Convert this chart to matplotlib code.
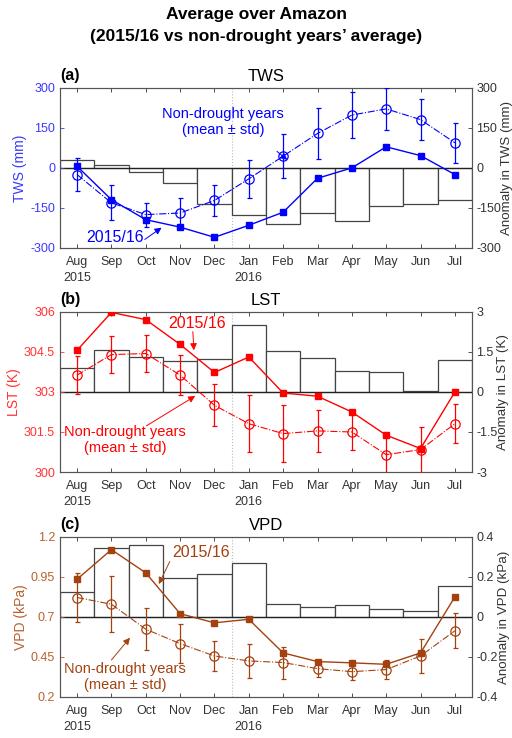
import matplotlib
matplotlib.use("Agg")
import matplotlib.pyplot as plt
import numpy as np

plt.rcParams['font.family'] = ['Liberation Sans', 'DejaVu Sans']
plt.rcParams['axes.unicode_minus'] = False

months = ['Aug', 'Sep', 'Oct', 'Nov', 'Dec', 'Jan', 'Feb', 'Mar', 'Apr', 'May', 'Jun', 'Jul']
tick_labels = ['Aug\n2015', 'Sep', 'Oct', 'Nov', 'Dec', 'Jan\n2016', 'Feb', 'Mar', 'Apr', 'May', 'Jun', 'Jul']

tws_drought = [6, -119, -194, -222, -260, -215, -166, -39, 0, 79, 46, -25]
tws_normal = [-25, -131, -175, -169, -122, -41, 44, 129, 198, 221, 181, 94]
tws_std = [62, 66, 45, 55, 57, 70, 82, 94, 86, 80, 78, 75]
tws_anom = [31, 11, -17, -56, -137, -175, -210, -169, -200, -144, -134, -119]

lst_drought = [304.56, 305.98, 305.71, 304.78, 303.73, 304.31, 302.96, 302.84, 302.25, 301.38, 300.88, 303.0]
lst_normal = [303.63, 304.40, 304.44, 303.63, 302.50, 301.81, 301.44, 301.54, 301.50, 300.65, 300.84, 301.81]
lst_std = [0.72, 0.70, 0.68, 0.76, 0.78, 1.07, 1.08, 0.80, 0.69, 0.74, 0.86, 0.72]
lst_anom = [0.91, 1.59, 1.31, 1.15, 1.25, 2.52, 1.54, 1.29, 0.78, 0.75, 0.05, 1.21]

vpd_drought = [0.935, 1.12, 0.975, 0.72, 0.663, 0.685, 0.475, 0.421, 0.413, 0.404, 0.475, 0.825]
vpd_normal = [0.821, 0.779, 0.623, 0.533, 0.456, 0.425, 0.415, 0.377, 0.358, 0.371, 0.456, 0.613]
vpd_std = [0.154, 0.176, 0.130, 0.120, 0.096, 0.107, 0.100, 0.053, 0.055, 0.060, 0.105, 0.110]
vpd_anom = [0.122, 0.342, 0.358, 0.195, 0.212, 0.270, 0.063, 0.050, 0.058, 0.037, 0.028, 0.155]

panels = [
    dict(tag='(a)', title='TWS', ylabel='TWS (mm)', rlabel='Anomaly in TWS (mm)',
         d=tws_drought, n=tws_normal, s=tws_std, a=tws_anom,
         ylim=(-300, 300), yt=[-300, -150, 0, 150, 300], ytl=['-300', '-150', '0', '150', '300'],
         rlim=(-300, 300), rt=[-300, -150, 0, 150, 300], rtl=['-300', '-150', '0', '150', '300'],
         color='#0000FF', tcolor='#3a3aff',
         txt_d=(2.1, -262), arr_d=((2.97, -268), (3.46, -224)),
         txt_n=(5.25, 172), arr_n=((6.82, 62), (7.12, 30))),
    dict(tag='(b)', title='LST', ylabel='LST (K)', rlabel='Anomaly in LST (K)',
         d=lst_drought, n=lst_normal, s=lst_std, a=lst_anom,
         ylim=(300, 306), yt=[300, 301.5, 303, 304.5, 306], ytl=['300', '301.5', '303', '304.5', '306'],
         rlim=(-3, 3), rt=[-3, -1.5, 0, 1.5, 3], rtl=['-3', '-1.5', '0', '1.5', '3'],
         color='#FF0000', tcolor='#ff3333',
         txt_d=(4.5, 305.55), arr_d=((4.37, 305.26), (4.4, 304.56)),
         txt_n=(2.4, 301.2), arr_n=((3.02, 301.73), (4.44, 302.85))),
    dict(tag='(c)', title='VPD', ylabel='VPD (kPa)', rlabel='Anomaly in VPD (kPa)',
         d=vpd_drought, n=vpd_normal, s=vpd_std, a=vpd_anom,
         ylim=(0.2, 1.2), yt=[0.2, 0.45, 0.7, 0.95, 1.2], ytl=['0.2', '0.45', '0.7', '0.95', '1.2'],
         rlim=(-0.4, 0.4), rt=[-0.4, -0.2, 0, 0.2, 0.4], rtl=['-0.4', '-0.2', '0', '0.2', '0.4'],
         color='#A3420F', tcolor='#b8612e',
         txt_d=(4.6, 1.105), arr_d=((3.7, 1.046), (3.38, 0.905)),
         txt_n=(2.4, 0.325), arr_n=((2.0, 0.431), (2.54, 0.57))),
]

fig = plt.figure(figsize=(5.12, 7.38), dpi=100)
fig.text(0.5, 1 - 15 / 738, 'Average over Amazon', ha='center', va='center',
         fontsize=12.5, fontweight='bold')
fig.text(0.5, 1 - 37 / 738, '(2015/16 vs non-drought years\u2019 average)', ha='center', va='center',
         fontsize=12.5, fontweight='bold')

boxes = [(0.117, 0.664, 0.805, 0.217), (0.117, 0.3604, 0.805, 0.217), (0.117, 0.0556, 0.805, 0.217)]
x = np.arange(1, 13)
gray = '#333333'

for p, box in zip(panels, boxes):
    ax = fig.add_axes(box)
    ax2 = ax.twinx()
    ax.set_zorder(ax2.get_zorder() + 1)
    ax.patch.set_visible(False)

    # anomaly bars
    ax2.bar(x, p['a'], width=1.0, color='white', edgecolor='#444444', linewidth=0.9, zorder=2)
    ax2.axhline(0, color='#222222', lw=0.9, zorder=3)
    ax2.axvline(5.5, color='#bbbbbb', lw=0.8, ls=':', zorder=1)
    ax2.set_ylim(*p['rlim'])
    ax2.set_yticks(p['rt'])
    ax2.set_yticklabels(p['rtl'])
    ax2.tick_params(axis='y', direction='in', colors=gray, labelsize=9, length=3, width=0.6, pad=3)
    ax2.set_ylabel(p['rlabel'], color=gray, fontsize=9.6, labelpad=0)

    c = p['color']
    ax.errorbar(x, p['n'], yerr=p['s'], color=c, ls='-.', lw=0.8, marker='o', ms=6.7,
                mfc='none', mec=c, mew=0.9, capsize=1.8, elinewidth=0.9, capthick=0.9, zorder=4)
    ax.plot(x, p['d'], color=c, ls='-', lw=1.0, marker='s', ms=5.0, mfc=c, mec=c, zorder=5)
    ax.set_xlim(0.5, 12.5)
    ax.set_ylim(*p['ylim'])
    ax.set_yticks(p['yt'])
    ax.set_yticklabels(p['ytl'])
    ax.set_xticks(x)
    ax.set_xticklabels(tick_labels, linespacing=1.45)
    ax.tick_params(axis='x', direction='in', top=True, colors=gray, labelsize=9, length=3,
                   width=0.6, pad=6)
    ax.tick_params(axis='y', direction='in', colors=p['tcolor'], labelsize=9, length=3, width=0.6)
    ax.set_ylabel(p['ylabel'], color=p['tcolor'], fontsize=10, labelpad=2)
    for sp in list(ax.spines.values()) + list(ax2.spines.values()):
        sp.set_color('#555555')
        sp.set_linewidth(0.8)

    ax.set_title(p['title'], fontsize=12, pad=5)
    ax.text(0.0, 1.03, p['tag'], transform=ax.transAxes, fontsize=11.5, fontweight='bold',
            ha='left', va='bottom')

    ax.text(*p['txt_d'], '2015/16', color=c, fontsize=11.5, ha='center', va='center', zorder=6)
    ax.text(*p['txt_n'], 'Non-drought years\n(mean ± std)', color=c, fontsize=10.5,
            ha='center', va='center', linespacing=1.15, zorder=6)
    for tail, head in (p['arr_d'], p['arr_n']):
        ax.annotate('', xy=head, xytext=tail,
                    arrowprops=dict(arrowstyle='-|>', color=c, lw=0.7, mutation_scale=10,
                                    shrinkA=0, shrinkB=0),
                    zorder=6)

fig.savefig('out.png', dpi=100)
